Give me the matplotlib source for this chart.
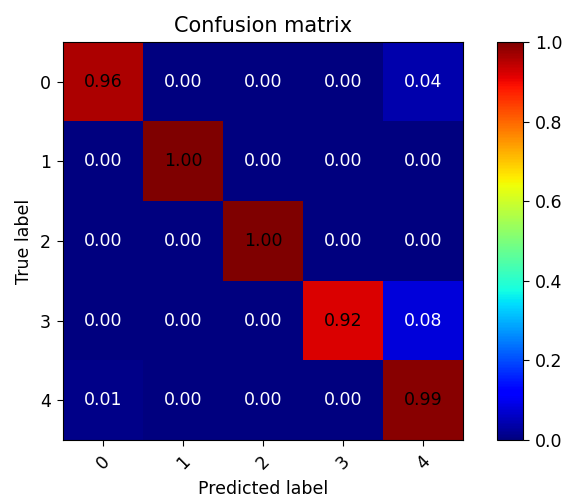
import matplotlib
matplotlib.use('Agg')
import matplotlib.pyplot as plt
import numpy as np

# Daten
classes = ['0', '1', '2', '3', '4']
row_0 = [0.96, 0.00, 0.00, 0.00, 0.04]
row_1 = [0.00, 1.00, 0.00, 0.00, 0.00]
row_2 = [0.00, 0.00, 1.00, 0.00, 0.00]
row_3 = [0.00, 0.00, 0.00, 0.92, 0.08]
row_4 = [0.01, 0.00, 0.00, 0.00, 0.99]
cm = np.array([row_0, row_1, row_2, row_3, row_4])

s = 1.25  # Skalierung der Schrift
fig = plt.figure(figsize=(5.66, 4.96), dpi=100)
ax = fig.add_axes([63 / 566, 56 / 496, 400 / 566, 398 / 496])
cax = fig.add_axes([497 / 566, 56 / 496, 26 / 566, 398 / 496])

im = ax.imshow(cm, interpolation='nearest', cmap=plt.cm.jet, vmin=0, vmax=1, aspect='auto')
ax.set_title('Confusion matrix', fontsize=12 * s, pad=6 * s)
cb = fig.colorbar(im, cax=cax)
cb.ax.tick_params(labelsize=10 * s, length=3.5 * s, pad=3.5 * s)

ticks = np.arange(len(classes))
ax.set_xticks(ticks)
ax.set_xticklabels(classes, rotation=45)
ax.set_yticks(ticks)
ax.set_yticklabels(classes)
ax.tick_params(labelsize=10 * s, length=3.5 * s, pad=3.5 * s)

thresh = cm.max() / 2.
for i in range(cm.shape[0]):
    for j in range(cm.shape[1]):
        ax.text(j, i, format(cm[i, j], '.2f'), ha='center', va='center',
                color='white' if cm[i, j] < thresh else 'black', fontsize=10 * s)

ax.set_ylabel('True label', fontsize=10 * s, labelpad=4 * s)
ax.set_xlabel('Predicted label', fontsize=10 * s, labelpad=4 * s)

plt.savefig('out.png', dpi=100)
